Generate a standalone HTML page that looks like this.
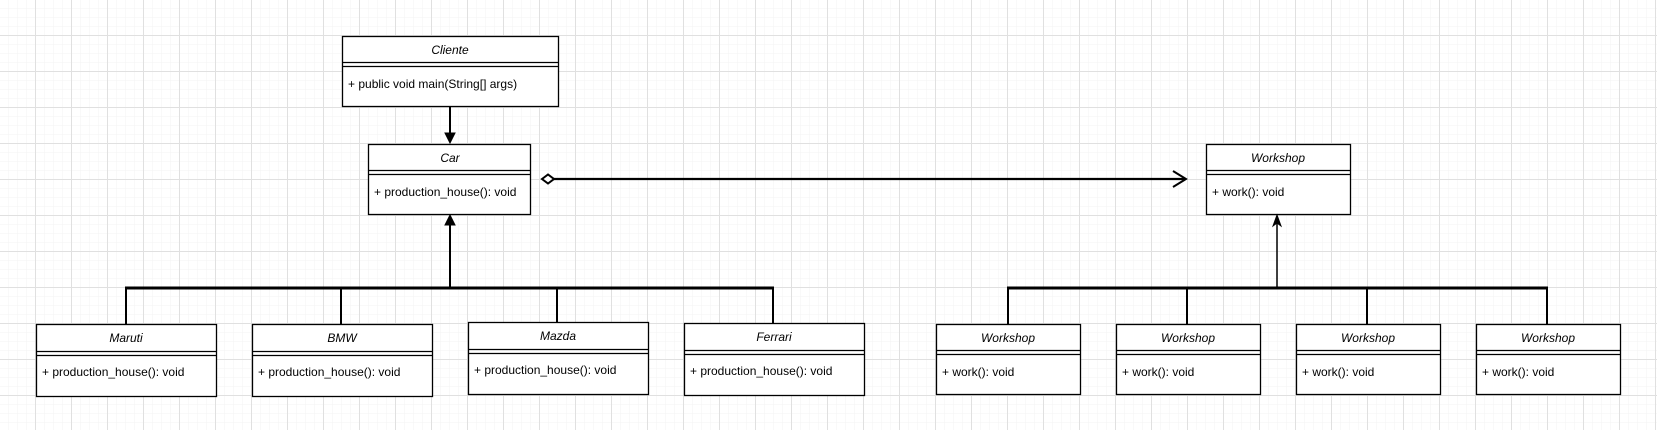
<!DOCTYPE html>
<html><head><meta charset="utf-8"><style>
html,body{margin:0;padding:0;background:#fff;}
svg{display:block;font-family:"Liberation Sans",Arial,sans-serif;}
</style></head><body>
<svg width="1657" height="430" viewBox="0 0 1657 430" xmlns="http://www.w3.org/2000/svg">
<defs>
<pattern id="minor" width="9" height="9" patternUnits="userSpaceOnUse">
<path d="M9 0V9M0 9H9" stroke="#f3f3f3" stroke-width="1" fill="none"/>
</pattern>
<pattern id="major" width="36" height="36" patternUnits="userSpaceOnUse">
<rect width="36" height="36" fill="url(#minor)"/>
<path d="M35.5 0V36M0 35.5H36" stroke="#e0e0e0" stroke-width="1" fill="none"/>
</pattern>
</defs>
<rect width="1657" height="430" fill="#fff"/>
<rect width="1657" height="430" fill="url(#major)"/>

<g stroke="#000" fill="#fff" stroke-width="1.3">
<!-- Cliente -->
<rect x="342.5" y="36.5" width="216" height="70"/>
<path d="M342.5 62.5H558.5M342.5 66.5H558.5"/>
<!-- Car -->
<rect x="368.5" y="144.5" width="162" height="70"/>
<path d="M368.5 170.5H530.5M368.5 174.5H530.5"/>
<!-- Workshop top -->
<rect x="1206.5" y="144.5" width="144" height="70"/>
<path d="M1206.5 170.5H1350.5M1206.5 174.5H1350.5"/>
<!-- children left -->
<rect x="36.5" y="324.5" width="180" height="72"/>
<path d="M36.5 351.5H216.5M36.5 355.5H216.5"/>
<rect x="252.5" y="324.5" width="180" height="72"/>
<path d="M252.5 351.5H432.5M252.5 355.5H432.5"/>
<rect x="468.5" y="322.5" width="180" height="72"/>
<path d="M468.5 349.5H648.5M468.5 353.5H648.5"/>
<rect x="684.5" y="323.5" width="180" height="72"/>
<path d="M684.5 350.5H864.5M684.5 354.5H864.5"/>
<!-- children right -->
<rect x="936.5" y="324.5" width="144" height="70"/>
<path d="M936.5 350.5H1080.5M936.5 354.5H1080.5"/>
<rect x="1116.5" y="324.5" width="144" height="70"/>
<path d="M1116.5 350.5H1260.5M1116.5 354.5H1260.5"/>
<rect x="1296.5" y="324.5" width="144" height="70"/>
<path d="M1296.5 350.5H1440.5M1296.5 354.5H1440.5"/>
<rect x="1476.5" y="324.5" width="144" height="70"/>
<path d="M1476.5 350.5H1620.5M1476.5 354.5H1620.5"/>
</g>

<g stroke="#000" fill="none">
<!-- Cliente -> Car -->
<path d="M450 107V134" stroke-width="2"/>
<path d="M445 133L455 133L450 143Z" fill="#000" stroke-width="1"/>
<!-- aggregation -->
<path d="M542 179L548 174.5L554 179L548 183.5Z" fill="#fff" stroke-width="2"/>
<path d="M554 179H1185" stroke-width="2.2"/>
<path d="M1173 171L1186 179L1173 187" stroke-width="2"/>
<!-- inheritance left -->
<path d="M450 288V224" stroke-width="2"/>
<path d="M445 225L455 225L450 215Z" fill="#000" stroke-width="1"/>
<path d="M125 288H774" stroke-width="3"/>
<path d="M126 288V324M341 288V324M557 288V322M773 288V323" stroke-width="2"/>
<!-- inheritance right -->
<path d="M1277 288V222" stroke-width="1.5"/>
<path d="M1273 226L1277 215L1281 226L1277 223Z" fill="#000" stroke-width="1"/>
<path d="M1007 288H1548" stroke-width="3"/>
<path d="M1008 288V324M1187 288V324M1367 288V324M1547 288V324" stroke-width="2"/>
</g>

<g font-size="12" fill="#000">
<g font-style="italic" text-anchor="middle">
<text x="450" y="54">Cliente</text>
<text x="450" y="162">Car</text>
<text x="1278" y="162">Workshop</text>
<text x="126" y="342">Maruti</text>
<text x="342" y="342">BMW</text>
<text x="558" y="340">Mazda</text>
<text x="774" y="341">Ferrari</text>
<text x="1008" y="342">Workshop</text>
<text x="1188" y="342">Workshop</text>
<text x="1368" y="342">Workshop</text>
<text x="1548" y="342">Workshop</text>
</g>
<text x="348" y="88">+ public void main(String[] args)</text>
<text x="374" y="196">+ production_house(): void</text>
<text x="1212" y="196">+ work(): void</text>
<text x="42" y="376">+ production_house(): void</text>
<text x="258" y="376">+ production_house(): void</text>
<text x="474" y="374">+ production_house(): void</text>
<text x="690" y="375">+ production_house(): void</text>
<text x="942" y="376">+ work(): void</text>
<text x="1122" y="376">+ work(): void</text>
<text x="1302" y="376">+ work(): void</text>
<text x="1482" y="376">+ work(): void</text>
</g>
</svg>
</body></html>
